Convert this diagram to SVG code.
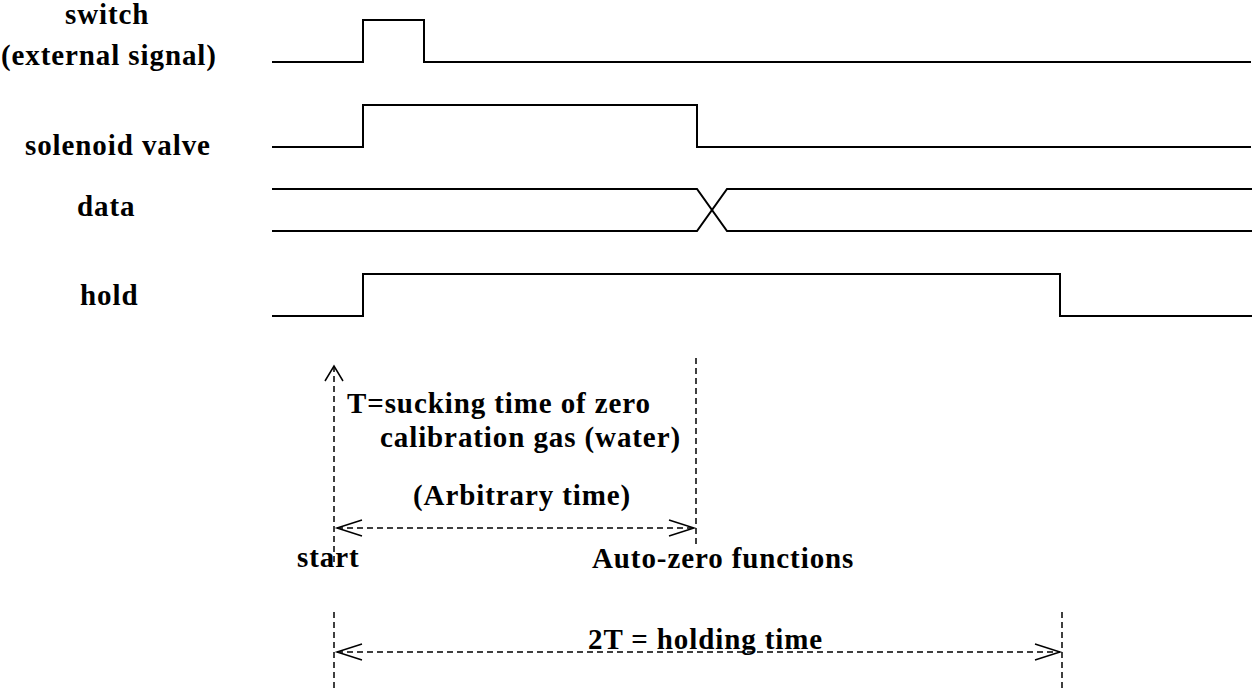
<svg xmlns="http://www.w3.org/2000/svg" width="1255" height="691" viewBox="0 0 1255 691">
<style>
.t{font-family:"Liberation Serif","Times New Roman",serif;font-weight:bold;font-size:29px;letter-spacing:0.9px;fill:#000}
.sig{fill:none;stroke:#000;stroke-width:2}
.dash{fill:none;stroke:#000;stroke-width:1.5;stroke-dasharray:6,4}
.head{fill:none;stroke:#000;stroke-width:1.5}
</style>
<rect width="1255" height="691" fill="#fff"/>
<g id="label-switch">
<text class="t" x="65" y="24">switch</text>
<text class="t" x="1" y="65">(external signal)</text>
</g>
<g id="label-solenoid"><text class="t" x="25" y="155">solenoid valve</text></g>
<g id="label-data"><text class="t" x="77" y="216">data</text></g>
<g id="label-hold"><text class="t" x="80" y="305">hold</text></g>
<g id="signal-switch"><polyline class="sig" points="272,62 363,62 363,20 424,20 424,62 1251,62"/></g>
<g id="signal-solenoid"><polyline class="sig" points="272,147 363,147 363,105 697,105 697,147 1251,147"/></g>
<g id="signal-data">
<polyline class="sig" points="272,189 697,189 727,231 1252,231"/>
<polyline class="sig" points="272,231 697,231 727,189 1252,189"/>
</g>
<g id="signal-hold"><polyline class="sig" points="272,316 363,316 363,274 1060,274 1060,316 1252,316"/></g>
<g id="connectors">
<line class="dash" x1="334" y1="366" x2="334" y2="562"/>
<polyline class="head" points="325,381 334,366 343,381"/>
<line class="dash" x1="696" y1="358" x2="696" y2="548"/>
<line class="dash" x1="337" y1="528" x2="694" y2="528"/>
<polyline class="head" points="362,520 337,528 362,536"/>
<polyline class="head" points="669,520 694,528 669,536"/>
<line class="dash" x1="334" y1="612" x2="334" y2="691"/>
<line class="dash" x1="1062" y1="612" x2="1062" y2="691"/>
<line class="dash" x1="337" y1="652" x2="1060" y2="652"/>
<polyline class="head" points="362,644 337,652 362,660"/>
<polyline class="head" points="1035,644 1060,652 1035,660"/>
</g>
<g id="annotations">
<text class="t" x="347" y="413">T=sucking time of zero</text>
<text class="t" x="380" y="447">calibration gas (water)</text>
<text class="t" x="413" y="505">(Arbitrary time)</text>
<text class="t" x="297" y="567">start</text>
<text class="t" x="592" y="568">Auto-zero functions</text>
<text class="t" x="588" y="649">2T = holding time</text>
</g>
</svg>
